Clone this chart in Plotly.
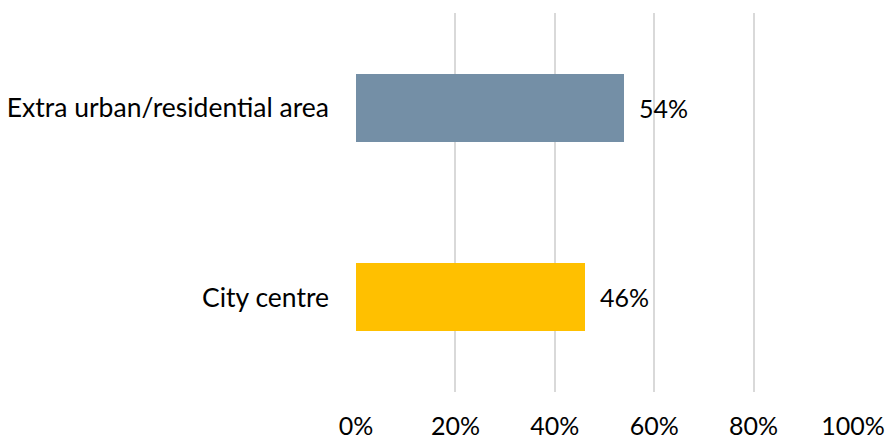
import plotly.graph_objects as go

# Share of respondents by area type
categories = ["City centre", "Extra urban/residential area"]
shares = [46, 54]
bar_colors = ["#FFC000", "#748FA6"]
tick_values = [0, 20, 40, 60, 80, 100]
tick_labels = ["0%", "20%", "40%", "60%", "80%", "100%"]

FONT = "Lato"
SIZE = 25

fig = go.Figure(
    go.Bar(
        x=shares,
        y=categories,
        orientation="h",
        marker=dict(color=bar_colors, line=dict(width=0)),
        width=0.36,
        hoverinfo="skip",
    )
)

for cat, val in zip(categories, shares):
    fig.add_annotation(
        x=val, y=cat, text=f"{val}%", showarrow=False,
        xanchor="left", xshift=13,
        font=dict(family=FONT, size=SIZE, color="#000000"),
    )

fig.update_layout(
    width=886, height=439,
    margin=dict(l=356, r=33, t=13, b=47),
    paper_bgcolor="white", plot_bgcolor="white",
    showlegend=False,
    bargap=0,
    font=dict(family=FONT, size=SIZE, color="#000000"),
)
fig.update_xaxes(
    range=[0, 100], tickvals=tick_values, ticktext=tick_labels,
    showgrid=True, gridcolor="#D9D9D9", gridwidth=2,
    zeroline=False, showline=False, ticks="",
    ticklabelstandoff=17, automargin=False,
    tickfont=dict(family=FONT, size=SIZE, color="#000000"),
)
fig.update_yaxes(
    showgrid=False, zeroline=False, showline=False, ticks="",
    ticklabelstandoff=26, automargin=False,
    tickfont=dict(family=FONT, size=26.5, color="#000000"),
)

fig.write_html("out.html")
